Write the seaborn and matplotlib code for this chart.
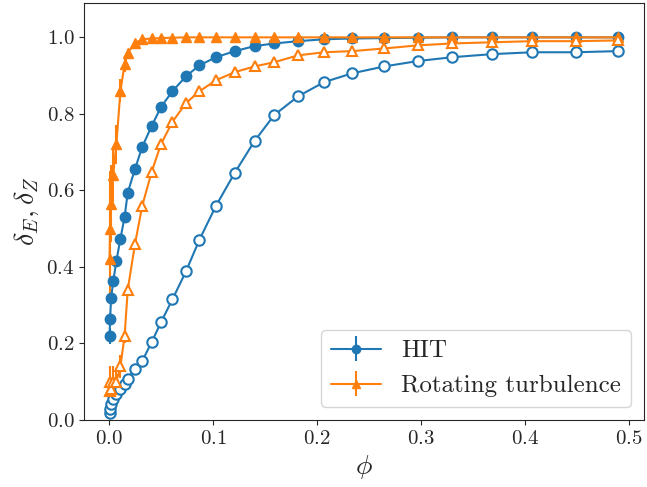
import numpy as np
import seaborn as sns
import matplotlib.pyplot as plt

# phi grid shared by all curves
phi = [0.0005, 0.001, 0.002, 0.004, 0.007, 0.011, 0.015, 0.018, 0.025, 0.032,
       0.041, 0.050, 0.061, 0.074, 0.087, 0.103, 0.121, 0.140, 0.159, 0.182,
       0.207, 0.234, 0.265, 0.297, 0.330, 0.368, 0.407, 0.449, 0.490]

# HIT
hit_E = [0.219, 0.263, 0.318, 0.362, 0.414, 0.474, 0.531, 0.594, 0.656, 0.714,
         0.768, 0.818, 0.859, 0.898, 0.927, 0.948, 0.964, 0.977, 0.984, 0.990,
         0.995, 0.997, 0.998, 0.999, 1.000, 1.000, 1.000, 1.000, 1.000]
hit_E_err = [0.02, 0.015, 0.015, 0.01, 0.01, 0.01, 0.01, 0.01, 0.01, 0.01,
             0.01, 0.005, 0.005, 0.005, 0.005, 0.003, 0.003, 0.002, 0.002, 0.002,
             0.001, 0.001, 0.001, 0.001, 0.001, 0.001, 0.001, 0.001, 0.001]
hit_Z = [0.018, 0.029, 0.042, 0.055, 0.068, 0.081, 0.094, 0.107, 0.133, 0.154,
         0.203, 0.255, 0.315, 0.388, 0.471, 0.560, 0.646, 0.729, 0.797, 0.846,
         0.883, 0.906, 0.924, 0.938, 0.948, 0.956, 0.961, 0.961, 0.964]

# Rotating turbulence
rot_E = [0.42, 0.50, 0.565, 0.64, 0.72, 0.86, 0.93, 0.96, 0.985, 0.995,
         0.997, 0.998, 0.999, 1.0, 1.0, 1.0, 1.0, 1.0, 1.0, 1.0,
         1.0, 1.0, 1.0, 1.0, 1.0, 1.0, 1.0, 1.0, 1.0]
rot_E_err = [0.1, 0.15, 0.1, 0.07, 0.05, 0.03, 0.02, 0.01, 0.005, 0.003,
             0.002, 0.001, 0.001, 0.001, 0.001, 0.001, 0.001, 0.001, 0.001, 0.001,
             0.001, 0.001, 0.001, 0.001, 0.001, 0.001, 0.001, 0.001, 0.001]
rot_Z = [0.075, 0.10, 0.08, 0.10, 0.10, 0.14, 0.22, 0.34, 0.46, 0.56,
         0.648, 0.721, 0.779, 0.828, 0.859, 0.888, 0.909, 0.924, 0.935, 0.953,
         0.961, 0.964, 0.971, 0.979, 0.984, 0.987, 0.990, 0.990, 0.992]
rot_Z_err = [0.03, 0.04, 0.03, 0.04, 0.03, 0.03, 0.02, 0.015, 0.01, 0.005,
             0.003, 0.002, 0.002, 0.001, 0.001, 0.001, 0.001, 0.001, 0.001, 0.001,
             0.001, 0.001, 0.001, 0.001, 0.001, 0.001, 0.001, 0.001, 0.001]

sns.set_style("ticks")
plt.rcParams['font.family'] = ['cmr10', 'DejaVu Serif']
plt.rcParams['mathtext.fontset'] = 'cm'
plt.rcParams['axes.formatter.use_mathtext'] = True
plt.rcParams['font.size'] = 15

blue, orange = sns.color_palette("tab10")[:2]

fig, ax = plt.subplots(figsize=(6.47, 4.87), dpi=100)
fig.subplots_adjust(left=0.130, right=0.995, bottom=0.138, top=0.994)

ax.errorbar(phi, hit_E, yerr=hit_E_err, color=blue, marker='o', ms=7.5, lw=1.5,
            label='HIT')
ax.errorbar(phi, hit_Z, color=blue, marker='o', ms=7.5, lw=1.5,
            mfc='white', mew=1.5)
ax.errorbar(phi, rot_E, yerr=rot_E_err, color=orange, marker='^', ms=7.5, lw=1.5,
            label='Rotating turbulence')
ax.errorbar(phi, rot_Z, yerr=rot_Z_err, color=orange, marker='^', ms=7.5, lw=1.5,
            mfc='white', mew=1.5)

ax.set_ylim(0, 1.09)
ax.set_xticks([0.0, 0.1, 0.2, 0.3, 0.4, 0.5])
ax.set_yticks([0.0, 0.2, 0.4, 0.6, 0.8, 1.0])
ax.set_xlabel(r'$\phi$', fontsize=20)
ax.set_ylabel(r'$\delta_E, \delta_Z$', fontsize=20)
ax.legend(loc='lower right', fontsize=18, markerscale=0.8)

fig.savefig('out.png', dpi=100)
